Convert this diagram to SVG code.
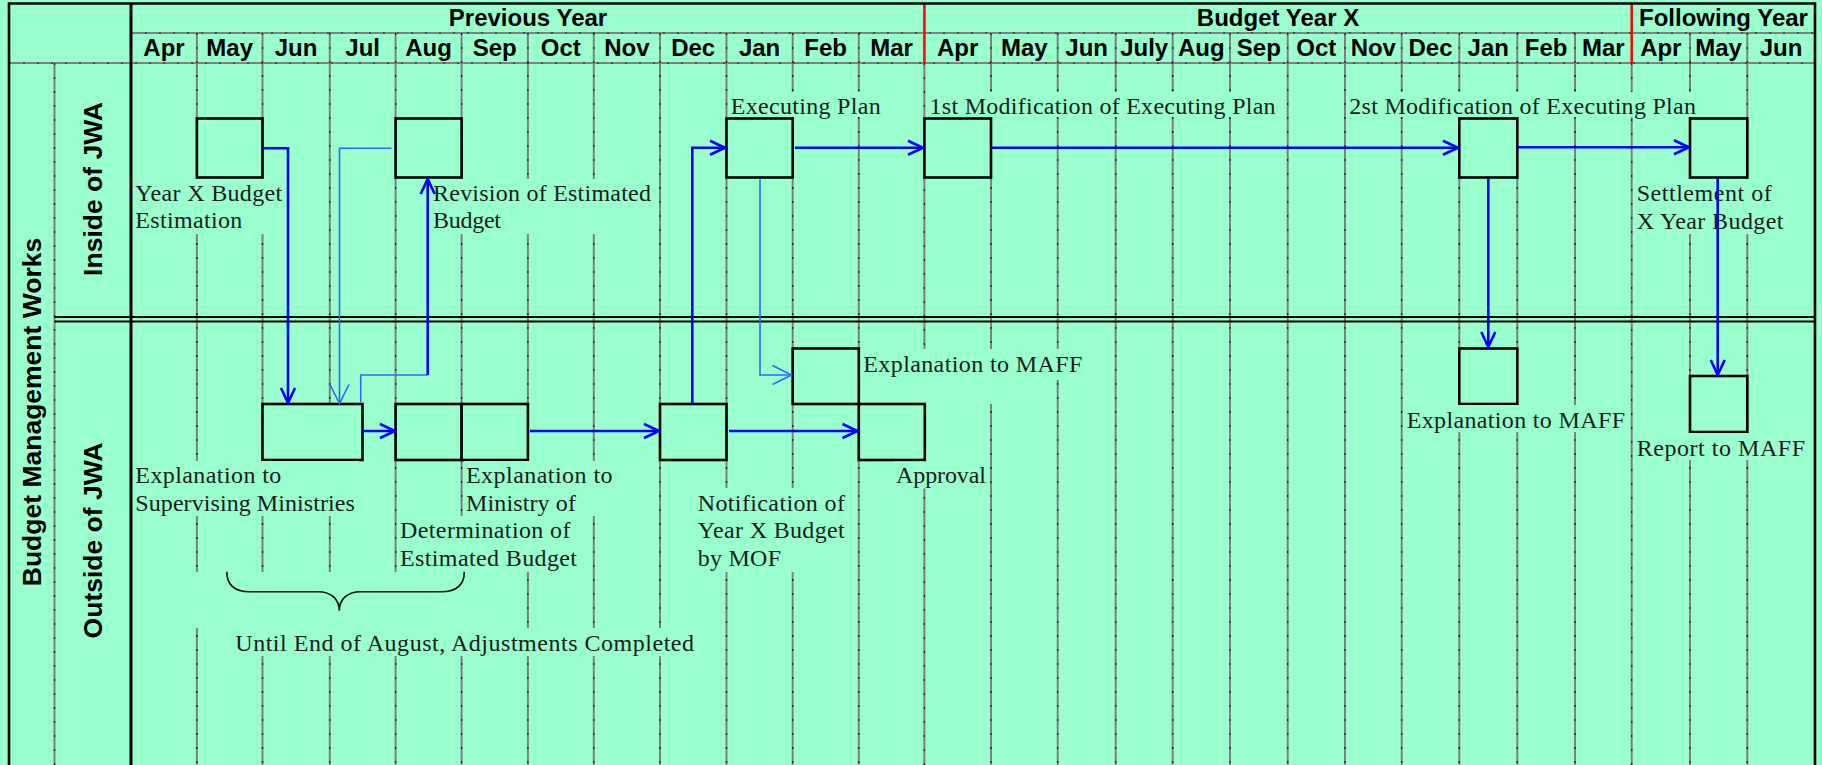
<svg xmlns="http://www.w3.org/2000/svg" width="1822" height="765" viewBox="0 0 1822 765">
<style>
.g{stroke:#808080;stroke-width:2;fill:none}
.gd{stroke:#1a1a1a;stroke-width:1.2;stroke-dasharray:2 12;fill:none}
.b{stroke:#000;stroke-width:2.6;fill:none}
.red{stroke:#ff0000;stroke-width:2.5}
.h{font-family:"Liberation Sans",Arial,sans-serif;font-weight:bold;font-size:24px;fill:#000;text-anchor:middle}
.v{font-family:"Liberation Sans",Arial,sans-serif;font-weight:bold;font-size:26.5px;fill:#000;text-anchor:middle}
.t{font-family:"Liberation Serif","Times New Roman",serif;font-size:24px;fill:#1c1c1c}
.box{fill:#99ffcc;stroke:#000;stroke-width:2.6}
.m{fill:#99ffcc;stroke:none}
.c{fill:none;stroke:#0000ff;stroke-width:2.6}
.cl{fill:none;stroke:#3366ff;stroke-width:1.6}
</style>
<defs>
<marker id="ah" markerUnits="userSpaceOnUse" viewBox="-18 -10 20 20" markerWidth="20" markerHeight="20" refX="0" refY="0" orient="auto">
<path d="M-15,-7 L0,0 L-15,7" fill="none" stroke="#0000ff" stroke-width="2.6"/>
</marker>
<marker id="ahl" markerUnits="userSpaceOnUse" viewBox="-22 -12 24 24" markerWidth="24" markerHeight="24" refX="0" refY="0" orient="auto">
<path d="M-19,-9.5 L0,0 L-19,9.5" fill="none" stroke="#3366ff" stroke-width="1.6"/>
</marker>
</defs>
<rect x="0" y="0" width="1822" height="765" fill="#99ffcc"/>
<g id="grid">
<path class="g" d="M196.9,33V765M262.5,33V765M329.8,33V765M395.6,33V765M461.6,33V765M527.9,33V765M593.8,33V765M660,33V765M726.5,33V765M792.7,33V765M858.8,33V765M924.4,63V765M991,33V765M1057.7,33V765M1115.7,33V765M1172.7,33V765M1230,33V765M1287.7,33V765M1345,33V765M1401.7,33V765M1459.3,33V765M1517.3,33V765M1575,33V765M1631.7,63V765M1690,33V765M1747.3,33V765M54.5,63V765M131,33H1815M9,63H1815"/>
<path class="gd" d="M196.9,33V765M262.5,33V765M329.8,33V765M395.6,33V765M461.6,33V765M527.9,33V765M593.8,33V765M660,33V765M726.5,33V765M792.7,33V765M858.8,33V765M924.4,63V765M991,33V765M1057.7,33V765M1115.7,33V765M1172.7,33V765M1230,33V765M1287.7,33V765M1345,33V765M1401.7,33V765M1459.3,33V765M1517.3,33V765M1575,33V765M1631.7,63V765M1690,33V765M1747.3,33V765M54.5,63V765M131,33H1815M9,63H1815"/>
<path class="red" d="M924.4,3.5V63M1631.7,3.5V63"/>
<path class="b" d="M9,765V3.5H1815V765"/>
<path d="M131,3.5V765" stroke="#000" stroke-width="3"/>
<path d="M54.5,317H1815M54.5,321.5H1815" stroke="#000" stroke-width="2.2"/>
</g>
<g id="header">
<text class="h" x="528" y="26">Previous Year</text>
<text class="h" x="1278" y="26">Budget Year X</text>
<text class="h" x="1723.5" y="26">Following Year</text>
<text class="h" x="164" y="56">Apr</text>
<text class="h" x="229.7" y="56">May</text>
<text class="h" x="296" y="56">Jun</text>
<text class="h" x="362.7" y="56">Jul</text>
<text class="h" x="428.6" y="56">Aug</text>
<text class="h" x="494.7" y="56">Sep</text>
<text class="h" x="560.8" y="56">Oct</text>
<text class="h" x="626.9" y="56">Nov</text>
<text class="h" x="693.2" y="56">Dec</text>
<text class="h" x="759.6" y="56">Jan</text>
<text class="h" x="825.7" y="56">Feb</text>
<text class="h" x="891.6" y="56">Mar</text>
<text class="h" x="957.7" y="56">Apr</text>
<text class="h" x="1024.3" y="56">May</text>
<text class="h" x="1086.7" y="56">Jun</text>
<text class="h" x="1144.2" y="56">July</text>
<text class="h" x="1201.3" y="56">Aug</text>
<text class="h" x="1258.8" y="56">Sep</text>
<text class="h" x="1316.3" y="56">Oct</text>
<text class="h" x="1373.3" y="56">Nov</text>
<text class="h" x="1430.5" y="56">Dec</text>
<text class="h" x="1488.3" y="56">Jan</text>
<text class="h" x="1546.1" y="56">Feb</text>
<text class="h" x="1603.3" y="56">Mar</text>
<text class="h" x="1660.8" y="56">Apr</text>
<text class="h" x="1718.6" y="56">May</text>
<text class="h" x="1781" y="56">Jun</text>
</g>
<g id="lanes">
<text class="v" transform="translate(41,412) rotate(-90)">Budget Management Works</text>
<text class="v" transform="translate(101.5,189) rotate(-90)">Inside of JWA</text>
<text class="v" transform="translate(101.5,540.5) rotate(-90)">Outside of JWA</text>
</g>
<g id="node-budget-estimation">
<rect class="box" x="196.9" y="118.5" width="65.6" height="59"/>
<rect class="m" x="133" y="179" width="151" height="55"/>
<text class="t" x="135.3" y="200.5" textLength="146.8">Year X Budget</text>
<text class="t" x="135.3" y="228" textLength="107">Estimation</text>
</g>
<g id="node-revision">
<rect class="box" x="395.6" y="118.5" width="66" height="59"/>
<rect class="m" x="431" y="179" width="224" height="55"/>
<text class="t" x="433" y="200.5" textLength="218">Revision of Estimated</text>
<text class="t" x="433" y="228" textLength="68">Budget</text>
</g>
<g id="node-executing-plan">
<rect class="m" x="728" y="92" width="156" height="25"/>
<text class="t" x="730.7" y="114" textLength="150">Executing Plan</text>
<rect class="box" x="726.5" y="118.5" width="66.2" height="59"/>
</g>
<g id="node-1st-modification">
<rect class="m" x="928" y="92" width="354" height="25"/>
<text class="t" x="929.6" y="114" textLength="346">1st Modification of Executing Plan</text>
<rect class="box" x="924.4" y="118.5" width="66.6" height="59"/>
</g>
<g id="node-2st-modification">
<rect class="m" x="1347" y="92" width="353" height="25"/>
<text class="t" x="1349.3" y="114" textLength="346.7">2st Modification of Executing Plan</text>
<rect class="box" x="1459.3" y="118.5" width="58" height="59"/>
</g>
<g id="node-settlement">
<rect class="box" x="1690" y="118.5" width="57.3" height="59"/>
<rect class="m" x="1635" y="179" width="152" height="55"/>
<text class="t" x="1636.7" y="201" textLength="135">Settlement of</text>
<text class="t" x="1636.7" y="228.5" textLength="146.7">X Year Budget</text>
</g>
<g id="node-explanation-supervising">
<rect class="box" x="262.5" y="404" width="100" height="56"/>
<rect class="m" x="133" y="461" width="226" height="55"/>
<text class="t" x="135.3" y="483" textLength="146">Explanation to</text>
<text class="t" x="135.3" y="510.5" textLength="219.6">Supervising Ministries</text>
</g>
<g id="node-determination">
<rect class="box" x="395.6" y="404" width="66" height="56"/>
<rect class="m" x="398" y="516" width="183" height="56"/>
<text class="t" x="400" y="538.3" textLength="170.5">Determination of</text>
<text class="t" x="400" y="565.7" textLength="177">Estimated Budget</text>
</g>
<g id="node-explanation-ministry">
<rect class="box" x="461.6" y="404" width="66.3" height="56"/>
<rect class="m" x="464" y="461" width="151" height="55"/>
<text class="t" x="466" y="483" textLength="146.5">Explanation to</text>
<text class="t" x="466" y="510.5" textLength="110">Ministry of</text>
</g>
<g id="node-notification">
<rect class="box" x="660" y="404" width="66.5" height="56"/>
<rect class="m" x="696" y="488" width="156" height="84"/>
<text class="t" x="697.7" y="510.5" textLength="147.3">Notification of</text>
<text class="t" x="697.7" y="538.3" textLength="147">Year X Budget</text>
<text class="t" x="697.7" y="565.7" textLength="83.3">by MOF</text>
</g>
<g id="node-explanation-maff-1">
<rect class="box" x="792.7" y="348.5" width="66.1" height="55.5"/>
<path class="m" d="M861,349H1086V380H1000V404H861Z"/>
<text class="t" x="863.3" y="371.5" textLength="219">Explanation to MAFF</text>
</g>
<g id="node-approval">
<rect class="box" x="858.8" y="404" width="66" height="56"/>
<rect class="m" x="894" y="461.5" width="95" height="27"/>
<text class="t" x="896" y="483" textLength="90">Approval</text>
</g>
<g id="node-explanation-maff-2">
<rect class="box" x="1459.3" y="348.5" width="58" height="55.5"/>
<rect class="m" x="1404" y="405" width="225" height="27"/>
<text class="t" x="1406.7" y="427.5" textLength="218.3">Explanation to MAFF</text>
</g>
<g id="node-report-maff">
<rect class="box" x="1690" y="376" width="57.3" height="56"/>
<rect class="m" x="1634" y="433" width="175" height="27"/>
<text class="t" x="1636.7" y="455.5" textLength="168.3">Report to MAFF</text>
</g>
<g id="node-adjustments">
<rect class="m" x="190" y="572" width="280" height="56"/>
<path d="M226.8,571.7C226.8,585 235,591.7 250,591.7H318C332,591.7 339.3,600 339.3,610.7C339.3,600 346.6,591.7 360.6,591.7H441C456,591.7 464.3,585 464.3,571.7" fill="none" stroke="#111" stroke-width="1.6"/>
<rect class="m" x="232" y="628" width="467" height="28"/>
<text class="t" x="235.3" y="651" textLength="458.7">Until End of August, Adjustments Completed</text>
</g>
<g id="connectors">
<path class="c" d="M262.5,148.3H288V403" marker-end="url(#ah)"/>
<path class="cl" d="M391.5,148.3H339.5V403.5" marker-end="url(#ahl)"/>
<path class="cl" d="M360.7,402V375H427.7"/>
<path class="c" d="M427.7,375V179" marker-end="url(#ah)"/>
<path class="c" d="M362.5,431H395" marker-end="url(#ah)"/>
<path class="c" d="M530,431H659" marker-end="url(#ah)"/>
<path class="c" d="M692.3,403V147.7H725" marker-end="url(#ah)"/>
<path class="c" d="M729,431H857.5" marker-end="url(#ah)"/>
<path class="cl" d="M760,178.5V375H791.5" marker-end="url(#ahl)"/>
<path class="c" d="M795,147.7H923" marker-end="url(#ah)"/>
<path class="c" d="M991,147.7H1458" marker-end="url(#ah)"/>
<path class="c" d="M1517.3,147.2H1689" marker-end="url(#ah)"/>
<path class="c" d="M1488.3,178.5V347" marker-end="url(#ah)"/>
<path class="c" d="M1717.7,178.5V375" marker-end="url(#ah)"/>
</g>
</svg>
